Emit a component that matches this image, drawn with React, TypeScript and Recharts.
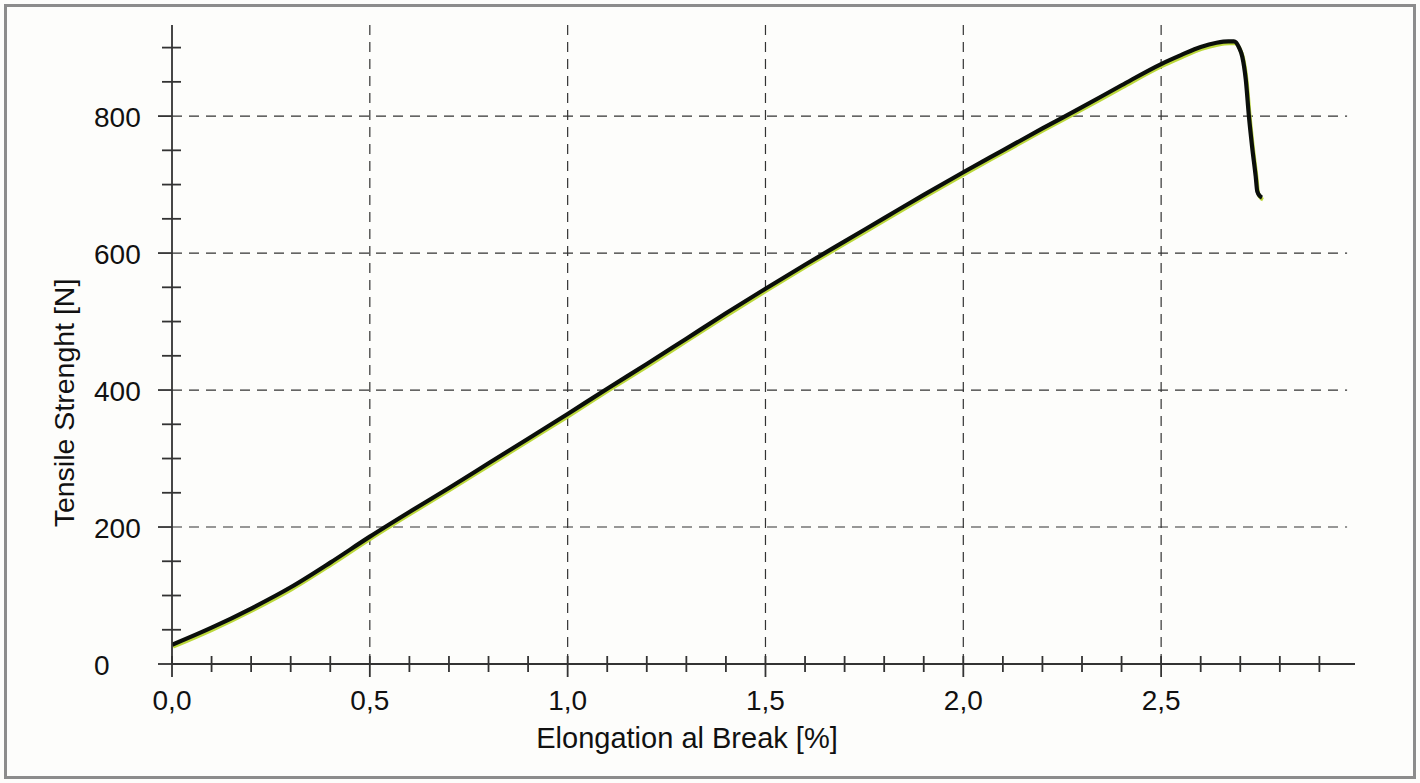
import { LineChart, Line, XAxis, YAxis, ReferenceLine } from "recharts";

const elongation = [
  0.0, 0.1, 0.2, 0.3, 0.4, 0.5, 0.6, 0.7, 0.8, 0.9, 1.0, 1.1, 1.2, 1.3, 1.4,
  1.5, 1.6, 1.7, 1.8, 1.9, 2.0, 2.1, 2.2, 2.3, 2.4, 2.5, 2.55, 2.6, 2.64, 2.67,
  2.684, 2.697, 2.705, 2.714, 2.722, 2.73, 2.739, 2.743, 2.75, 2.755,
];
const strength = [
  28, 53, 81, 112, 148, 186, 222, 257, 293, 329, 365, 402, 438, 475, 512, 548,
  583, 617, 651, 685, 718, 750, 782, 813, 845, 876, 889, 901, 907, 909, 909,
  900, 887, 853, 799, 755, 712, 690, 683, 681,
];

const xTicks = Array.from({ length: 30 }, (_, i) => i / 10);
const yTicks = Array.from({ length: 19 }, (_, i) => i * 50);
const xGrid = [0.5, 1.0, 1.5, 2.0, 2.5];
const yGrid = [200, 400, 600, 800];

const data = elongation.map((x, i) => ({ x, y: strength[i] }));

const FONT = '"Liberation Sans", Arial, sans-serif';
const AXIS = "#333";
const GRID = "#333";

const XTick = ({ x, y, payload }: any) => {
  const v = payload.value;
  const major = Math.abs(v * 2 - Math.round(v * 2)) < 1e-6;
  return (
    <g>
      <line
        x1={x}
        x2={x}
        y1={y - 8}
        y2={major ? y + 13 : y + 8}
        stroke={AXIS}
        strokeWidth={1.8}
      />
      {major && (
        <text x={x} y={y + 46} textAnchor="middle" fontSize={28} fill="#111" fontFamily={FONT}>
          {v.toFixed(1).replace(".", ",")}
        </text>
      )}
    </g>
  );
};

const YTick = ({ x, y, payload }: any) => {
  const v = payload.value;
  const major = v % 200 === 0;
  return (
    <g>
      <line
        x1={major ? x - 14 : x - 10}
        x2={major ? x : x + 9}
        y1={y}
        y2={y}
        stroke={AXIS}
        strokeWidth={1.8}
      />
      {major && (
        <text x={x - 78} y={y + 11} textAnchor="start" fontSize={28} fill="#111" fontFamily={FONT}>
          {v}
        </text>
      )}
    </g>
  );
};

export default function App() {
  return (
    <div
      style={{
        position: "absolute",
        left: 0,
        top: 0,
        width: 1420,
        height: 783,
        background: "#fdfdfb",
      }}
    >
      <div
        style={{
          position: "absolute",
          left: 4,
          top: 4,
          width: 1412,
          height: 775,
          border: "3px solid #8c8c8c",
          boxSizing: "border-box",
        }}
      />
      <style>{`.glow-line { transform: translate(1px, 2px); }`}</style>
      <div style={{ position: "absolute", left: 0, top: 0 }}>
        <LineChart
          width={1420}
          height={783}
          data={data}
          margin={{ top: 25, right: 65, bottom: 19, left: 72 }}
        >
          {xGrid.map((g) => (
            <ReferenceLine key={`vx-${g}`} x={g} stroke={GRID} strokeDasharray="10 7" strokeWidth={1.2} />
          ))}
          {yGrid.map((g) => (
            <ReferenceLine
              key={`hy-${g}`}
              segment={[
                { x: 0, y: g },
                { x: 2.97, y: g },
              ]}
              stroke={GRID}
              strokeDasharray="10 7"
              strokeWidth={1.2}
            />
          ))}
          <XAxis
            dataKey="x"
            type="number"
            domain={[0, 2.99]}
            ticks={xTicks}
            allowDataOverflow
            height={100}
            tickSize={0}
            tickMargin={0}
            tickLine={false}
            axisLine={{ stroke: AXIS, strokeWidth: 1.8 }}
            tick={<XTick />}
            interval={0}
            label={{
              value: "Elongation al Break [%]",
              content: () => (
                <text
                  x={687}
                  y={748}
                  textAnchor="middle"
                  fontSize={29}
                  fill="#111"
                  fontFamily={FONT}
                >
                  Elongation al Break [%]
                </text>
              ),
            }}
          />
          <YAxis
            type="number"
            domain={[0, 933]}
            ticks={yTicks}
            allowDataOverflow
            width={100}
            tickSize={0}
            tickMargin={0}
            tickLine={false}
            axisLine={{ stroke: AXIS, strokeWidth: 1.8 }}
            tick={<YTick />}
            interval={0}
            label={{
              value: "Tensile Strenght [N]",
              content: () => (
                <text
                  x={64}
                  y={403}
                  transform="rotate(-90 64 403)"
                  textAnchor="middle"
                  dominantBaseline="central"
                  fontSize={28.5}
                  fill="#111"
                  fontFamily={FONT}
                >
                  Tensile Strenght [N]
                </text>
              ),
            }}
          />
          <Line
            className="glow-line"
            dataKey="y"
            type="monotone"
            stroke="#bcd83c"
            strokeWidth={3.8}
            dot={false}
            isAnimationActive={false}
          />
          <Line
            dataKey="y"
            type="monotone"
            stroke="#0b0f0b"
            strokeWidth={4.2}
            dot={false}
            isAnimationActive={false}
          />
        </LineChart>
      </div>
    </div>
  );
}
